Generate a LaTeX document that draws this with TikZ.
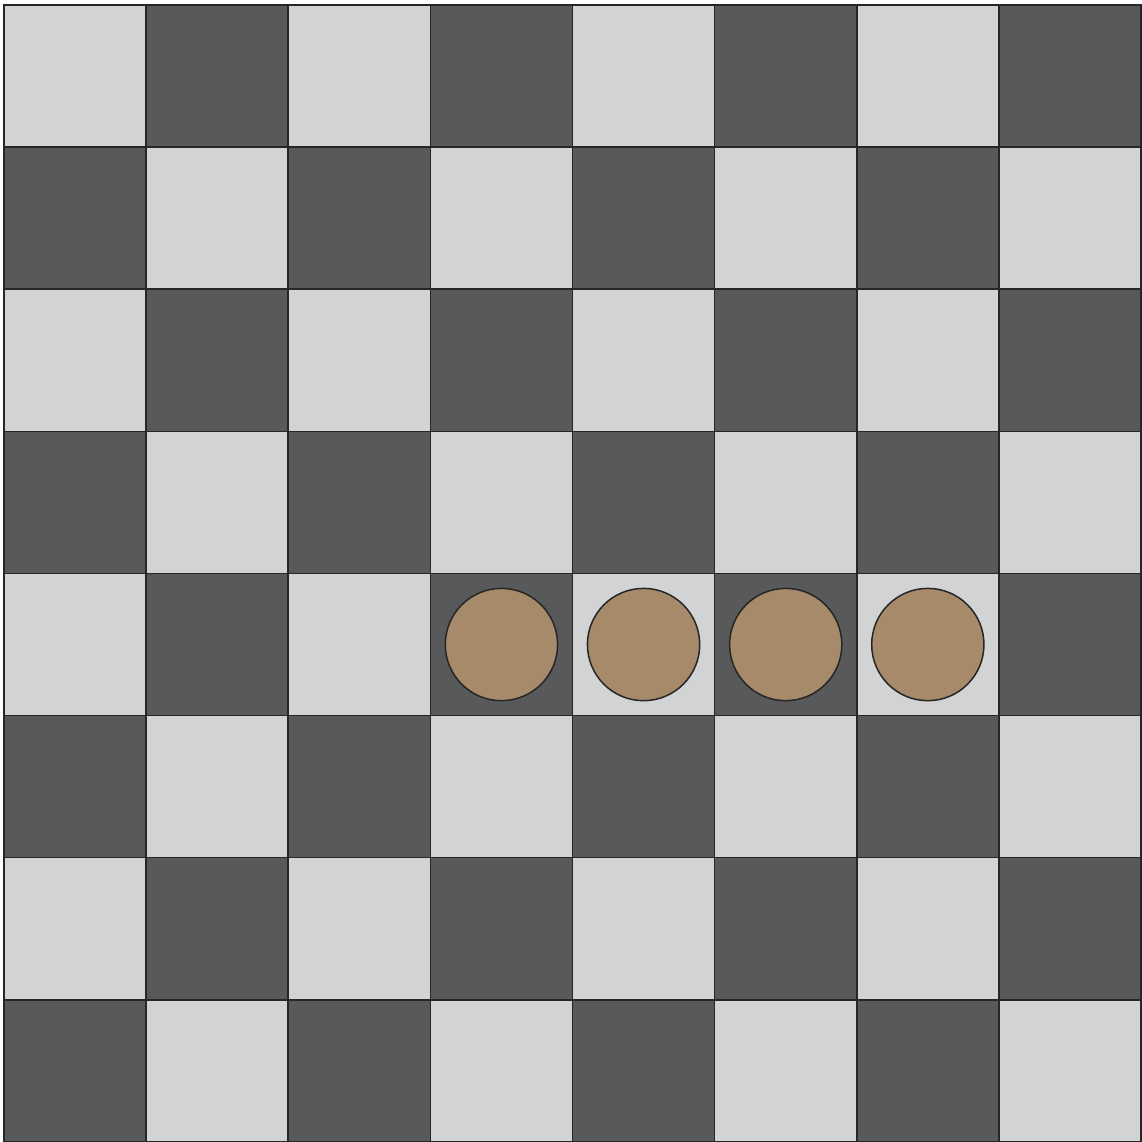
\documentclass[tikz,border=0pt]{standalone}
\usepackage{xcolor}
\usepackage{tikz}
\usetikzlibrary{positioning}
\definecolor{lightsq}{HTML}{D1D3D4}
\definecolor{darksq}{HTML}{58595B}
\definecolor{piece}{HTML}{A78A6A}
\tikzset{
  board line/.style={draw=black!85, line width=0.3pt},
  stone/.style={circle, draw=black!85, line width=0.3pt, fill=piece, minimum size=0.79cm, inner sep=0pt},
}

\begin{document}
\begin{tikzpicture}
    % Margins
    \useasboundingbox (-0.028, 0) rectangle (8, 8.035);

    % Squares
    \foreach \r in {0,...,7} {
        \foreach \c in {0,...,7} {
            \pgfmathtruncatemacro{\sqparity}{mod(\r+\c,2)}
            \ifnum\sqparity=0
                \filldraw[board line, fill=lightsq] (\c, 7-\r) rectangle ++(1, 1);
            \else
                \filldraw[board line, fill=darksq] (\c, 7-\r) rectangle ++(1, 1);
            \fi
        }
    }

    % Stones
    \node[stone] (S1) at (3.5, 3.5) {};
    \node[stone] (S2) at (4.5, 3.5) {};
    \node[stone] (S3) at (5.5, 3.5) {};
    \node[stone] (S4) at (6.5, 3.5) {};
\end{tikzpicture}
\end{document}
